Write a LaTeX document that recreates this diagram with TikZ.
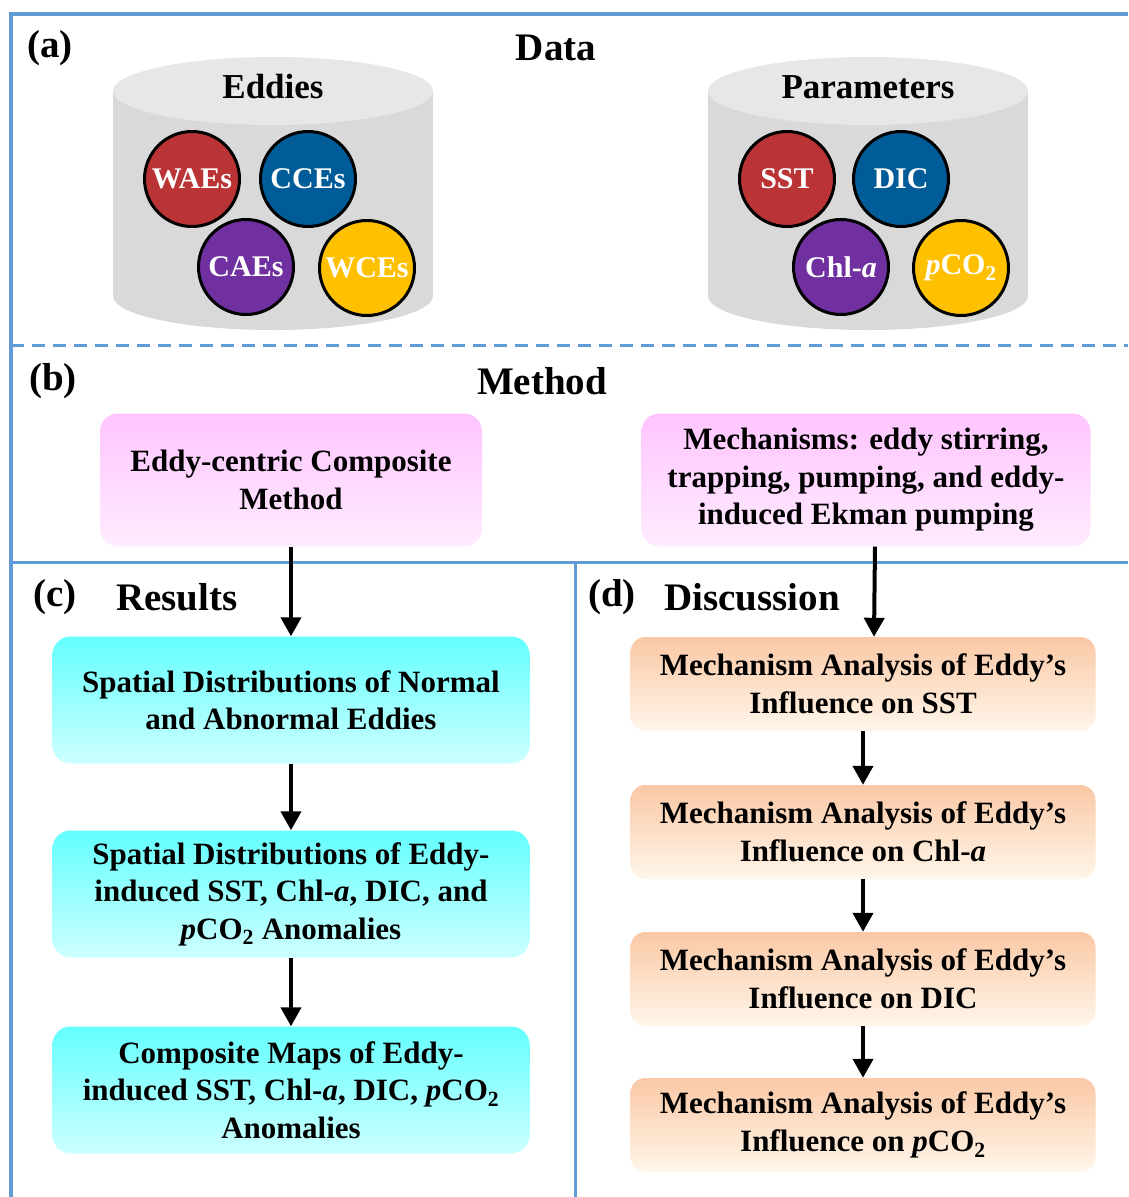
\documentclass[tikz,border=0pt]{standalone}
\usepackage{fontspec}
\setmainfont{Liberation Serif}
\usetikzlibrary{arrows.meta, positioning, calc}
\definecolor{frameblue}{RGB}{96,157,214}
\definecolor{eddyred}{RGB}{186,52,54}
\definecolor{eddyblue}{RGB}{0,92,153}
\definecolor{eddypurple}{RGB}{112,48,160}
\definecolor{eddyyellow}{RGB}{255,192,0}
\definecolor{cylside}{RGB}{217,217,217}
\definecolor{cyltop}{RGB}{231,231,231}
\definecolor{pinkA}{RGB}{255,196,255}
\definecolor{pinkB}{RGB}{255,236,255}
\definecolor{cyanA}{RGB}{100,255,255}
\definecolor{cyanB}{RGB}{205,255,255}
\definecolor{peachA}{RGB}{250,200,165}
\definecolor{peachB}{RGB}{255,246,234}
\tikzset{
  farr/.style    = {-{Triangle[width=20pt,length=19pt]}, line width=4pt},
  sepline/.style = {draw=frameblue, line width=3pt},
  %% Text presets
  title/.style    = {font=\fontsize{39}{44}\selectfont\bfseries, inner sep=0pt},
  cyllabel/.style = {font=\fontsize{35}{40}\selectfont\bfseries, inner sep=0pt},
  ecirc/.style = {circle, draw=black, line width=3pt, minimum size=95pt, inner sep=0pt,
                  text=white, font=\fontsize{30}{36}\selectfont\bfseries},
  %% Box colour presets
  fbox/.style = {rounded corners=18pt, align=center, inner sep=0pt, shading angle=45,
                 font=\fontsize{31}{37.5}\selectfont\bfseries},
  pbox/.style = {fbox, top color=pinkA,  bottom color=pinkB},
  cbox/.style = {fbox, top color=cyanA,  bottom color=cyanB, minimum width=477pt, minimum height=127pt},
  obox/.style = {fbox, top color=peachA, bottom color=peachB, rounded corners=15pt,
                 minimum width=465pt, minimum height=94pt},
}

\begin{document}
\begin{tikzpicture}[x=1pt, y=-1pt]
\useasboundingbox (0,0) rectangle (1128,1197);

%% ---- Frame and separators ----
\draw[sepline, line width=4pt] (1128,14) -- (11,14) -- (11,1197);
\draw[sepline, dash pattern=on 13pt off 8pt] (11,345) -- (1128,345);
\draw[sepline] (11,562) -- (1128,562);
\draw[sepline] (575,562) -- (575,1197);

%% ---- (a) Data ----
\node[title] (alabel) at (50,48)  {(a)};
\node[title] (datattl) at (556,48) {Data};

\foreach \cx in {273,868} {
  \fill[cylside] (\cx-160,91) rectangle (\cx+160,296);
  \fill[cylside] (\cx,296) ellipse [x radius=160pt, y radius=34pt];
  \fill[cyltop]  (\cx,91)  ellipse [x radius=160pt, y radius=34pt];
}
\node[cyllabel] (eddieslbl) at (273,87) {Eddies};
\node[cyllabel] (paramlbl)  at (868,87) {Parameters};

\node[ecirc, fill=eddyred]    (waes) at (192,179) {WAEs};
\node[ecirc, fill=eddyblue]   (cces) at (308,179) {CCEs};
\node[ecirc, fill=eddypurple] (caes) at (246,267) {CAEs};
\node[ecirc, fill=eddyyellow] (wces) at (367,268) {WCEs};

\node[ecirc, fill=eddyred]    (sst)  at (787,179) {SST};
\node[ecirc, fill=eddyblue]   (dic)  at (901,179) {DIC};
\node[ecirc, fill=eddypurple] (chla) at (841,267) {Chl-\textit{a}};
\node[ecirc, fill=eddyyellow] (pco)  at (961,268) {\textit{p}CO\textsubscript{2}};

%% ---- (b) Method ----
\node[title] (blabel) at (53,381)  {(b)};
\node[title] (methttl) at (542,381) {Method};

\node[pbox, minimum width=382pt, minimum height=133pt] (composite) at (291,480)
  {Eddy-centric Composite\\Method};
\node[pbox, minimum width=449pt, minimum height=133pt] (mechs) at (866,480)
  {Mechanisms: eddy stirring,\\trapping, pumping, and eddy-\\induced Ekman pumping};

%% ---- (c) Results ----
\node[title] (clabel) at (55,597)  {(c)};
\node[title] (resttl) at (177,597) {Results};

\node[cbox] (spnormal) at (291,700)
  {Spatial Distributions of Normal\\and Abnormal Eddies};
\node[cbox] (spanom) at (291,894)
  {Spatial Distributions of Eddy-\\induced SST, Chl-\textit{a}, DIC, and\\\textit{p}CO\textsubscript{2} Anomalies};
\node[cbox] (compmaps) at (291,1090)
  {Composite Maps of Eddy-\\induced SST, Chl-\textit{a}, DIC, \textit{p}CO\textsubscript{2}\\Anomalies};

\draw[farr] (composite) -- (spnormal);
\draw[farr] (spnormal)  -- (spanom);
\draw[farr] (spanom)    -- (compmaps);

%% ---- (d) Discussion ----
\node[title] (dlabel) at (612,597) {(d)};
\node[title] (discttl) at (752,597) {Discussion};

\node[obox] (mecsst) at (863,684)  {Mechanism Analysis of Eddy's\\Influence on SST};
\node[obox] (mecchl) at (863,832)  {Mechanism Analysis of Eddy's\\Influence on Chl-\textit{a}};
\node[obox] (mecdic) at (863,979)  {Mechanism Analysis of Eddy's\\Influence on DIC};
\node[obox] (mecpco) at (863,1125) {Mechanism Analysis of Eddy's\\Influence on \textit{p}CO\textsubscript{2}};

\draw[farr] ([xshift=9pt]mechs.south) -- ([xshift=11pt]mecsst.north);
\draw[farr] (mecsst) -- (mecchl);
\draw[farr] (mecchl) -- (mecdic);
\draw[farr] (mecdic) -- (mecpco);

\end{tikzpicture}
\end{document}
